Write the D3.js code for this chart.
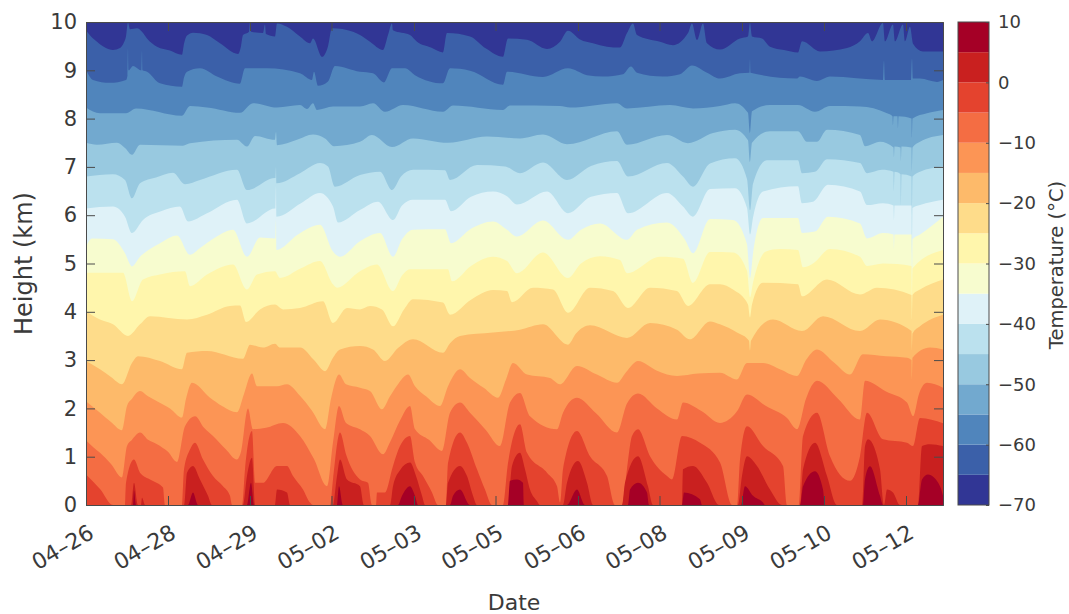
<!DOCTYPE html>
<html lang="en">
<head>
  <meta charset="UTF-8" />
  <title>Temperature by height</title>
  <script src="https://d3js.org/d3.v7.min.js"></script>
  <style>
    body { margin: 0; background: #fff; }
    text { font-family: 'DejaVu Sans', sans-serif; fill: #3a3a3a; }
    .domain, .tick line { stroke: #4a4a4a; }
  </style>
</head>
<body>
  <svg id="chart" width="1069" height="614"></svg>

  <script>
    // Tick labels
    const dateTicks = [0, 82, 164, 245.5, 328, 409.5, 492, 573.5, 656, 738, 820];
    const dateLabels = ['04–26', '04–28', '04–29', '05–02', '05–03', '05–05', '05–06', '05–08', '05–09', '05–10', '05–12'];
    const heightTicks = [0, 1, 2, 3, 4, 5, 6, 7, 8, 9, 10];
    const tempTicks = [-70, -60, -50, -40, -30, -20, -10, 0, 10];
    const tempEdges = [-70, -65, -60, -55, -50, -45, -40, -35, -30, -25, -20, -15, -10, -5, 0, 5, 10];
    const bandColors = ['#313695', '#3b60a9', '#5085bc', '#72a9cf', '#98c9e0', '#bbe1ee', '#dff2f8', '#f7fccf',
      '#fff6ac', '#fedc8a', '#fdba6a', '#fc9555', '#f46d43', '#e4432e', '#c9201f', '#a50026'];

    // Height (km) of each isotherm, as [profile number, km] pairs
    const iso70 = [[0, 10], [857, 10]];
    const iso65 = [[0,9.83],[5,9.7],[11,9.59],[19,9.47],[27,9.42],[34,9.46],[38,9.58],[40,9.7],[42,9.99],[44,9.85],[51,9.87],[56,9.8],[61,9.66],[71,9.49],[84,9.41],[96,9.32],[98,9.55],[101,9.72],[107,9.78],[121,9.73],[134,9.56],[152,9.34],[155,9.5],[157,9.73],[163,9.8],[164,10],[165,9.8],[177,9.77],[179,9.95],[180,9.75],[189,9.7],[191,9.97],[201,9.9],[214,9.7],[224,9.56],[227,9.66],[236,9.28],[242,9.5],[246,9.87],[267,9.8],[274,9.73],[284,9.59],[297,9.42],[302,9.73],[306,9.97],[307,9.83],[324,9.73],[331,9.59],[345,9.47],[357,9.37],[361,9.77],[384,9.7],[400,9.45],[417,9.28],[422,9.66],[441,9.63],[461,9.44],[474,9.59],[482,9.82],[494,9.64],[507,9.56],[521,9.49],[534,9.47],[541,9.77],[547,9.97],[551,9.73],[574,9.59],[587,9.52],[602,9.77],[606,9.97],[611,9.63],[617,9.97],[621,9.56],[634,9.43],[654,9.66],[662,9.7],[664,9.98],[666,9.7],[676,9.66],[684,9.49],[698,9.42],[712,9.37],[716,9.6],[734,9.39],[761,9.46],[774,9.6],[782,9.77],[786,9.6],[797,9.98],[799,9.6],[807,9.95],[809,9.6],[817,9.95],[819,9.6],[824,9.9],[827,9.55],[837,9.39],[857,9.39]];
    const iso60 = [[0,9.01],[7,8.8],[24,8.74],[40,8.8],[41.5,8.9],[42,9.45],[42.5,9],[47,9.09],[55.5,9],[56,9.4],[56.5,9],[61,8.97],[74,8.73],[96,8.66],[98,8.85],[101,8.97],[114,9.04],[131,8.87],[154,8.72],[159,9.04],[181,9.04],[214,8.94],[226,8.8],[228,8.97],[232,8.68],[242,8.77],[249,9.09],[274,8.97],[287,8.94],[298,8.75],[306,9.04],[319,9.04],[329,8.9],[357,8.73],[364,9.04],[384,8.99],[417,8.7],[421,8.97],[457,8.86],[482,9.04],[501,8.9],[517,8.87],[537,8.92],[545,9.08],[551,8.95],[577,8.87],[594,8.92],[606,9.1],[621,8.95],[634,8.83],[654,8.94],[663.5,8.95],[664,9.23],[664.5,8.95],[711,8.83],[714,8.87],[731,8.78],[744,8.87],[797,8.8],[798,9.2],[799,8.8],[825,8.8],[826,9.24],[827,8.83],[834,8.83],[851,8.76],[857,8.8]];
    const iso55 = [[0,8.23],[14,8.11],[40,8.11],[50,8.21],[96,8.06],[104,8.26],[121,8.23],[154,8.12],[167,8.32],[191,8.23],[214,8.28],[221,8.2],[227,8.32],[231,8.18],[247,8.25],[274,8.25],[287,8.32],[299,8.14],[317,8.28],[357,8.14],[367,8.27],[417,8.18],[424,8.27],[474,8.26],[484,8.23],[531,8.32],[541,8.21],[584,8.28],[607,8.21],[634,8.26],[649,8.32],[662,8.12],[664,7.7],[666,8.15],[684,8.28],[712,8.28],[729,8.14],[744,8.26],[774,8.25],[801,8.11],[806.5,8.05],[807,7.86],[807.5,8.05],[811.5,8.05],[812,7.8],[812.5,8.05],[825.5,8],[826,7.6],[826.5,8],[841,8.11],[857,8.18]];
    const iso50 = [[0,7.5],[11,7.46],[31,7.5],[39,7.39],[46,7.25],[54,7.46],[97,7.44],[104,7.49],[151,7.56],[161,7.42],[169,7.64],[189,7.56],[190,7.72],[191,7.45],[211,7.56],[227,7.67],[239,7.59],[248,7.43],[274,7.52],[286,7.66],[306,7.41],[327,7.59],[362,7.5],[401,7.63],[434,7.59],[457,7.67],[481,7.47],[531,7.74],[541,7.46],[581,7.66],[602,7.49],[627,7.7],[649,7.77],[662,7.55],[664,7.1],[666,7.5],[684,7.74],[712,7.74],[721,7.52],[731,7.52],[741,7.77],[774,7.66],[779,7.43],[794,7.52],[807.5,7.4],[808,7.2],[808.5,7.42],[814.5,7.4],[815,7.1],[815.5,7.42],[825.5,7.4],[826,6.9],[826.5,7.4],[834,7.52],[857,7.66]];
    const iso45 = [[0,6.8],[27,6.85],[39,6.73],[46,6.35],[54,6.66],[70,6.78],[87,6.88],[99,6.64],[114,6.73],[151,6.94],[161,6.52],[189,6.77],[189.5,6.77],[190,7],[190.5,6.66],[214,6.87],[234,7.08],[242,7.01],[249,6.59],[274,6.83],[294,6.9],[306,6.52],[315,6.8],[327,6.94],[359,6.93],[364,6.73],[391,7.04],[419,7.01],[434,6.87],[457,7.09],[481,6.73],[505,7.02],[531,7.12],[542,6.8],[581,7.08],[597,6.8],[607,6.59],[624,7.07],[649,7.18],[661,6.75],[664,6.1],[667,6.65],[681,7.14],[712,7.14],[716,6.87],[729,6.9],[741,7.16],[774,7.08],[781,6.87],[796,6.94],[807.5,6.9],[808,6.5],[808.5,6.9],[814.5,6.85],[815,6.2],[815.5,6.85],[825.5,6.8],[826,6],[826.5,6.8],[834,6.9],[857,7.01]];
    const iso40 = [[0,6.14],[27,6.18],[39,5.97],[46,5.63],[57,5.9],[75,6.08],[94,6.18],[102,5.87],[121,6.04],[151,6.32],[161,5.83],[189,6.14],[189.5,6.14],[190,6.6],[190.5,5.97],[215,6.25],[234,6.46],[247,6.18],[252,5.85],[274,6.11],[292,6.28],[307,5.9],[316,6.2],[327,6.32],[359,6.32],[365,6.08],[385,6.38],[407,6.49],[421,6.39],[431,6.22],[461,6.49],[482,6.04],[505,6.38],[531,6.46],[542,6.04],[581,6.46],[597,6.18],[607,5.97],[624,6.54],[649,6.56],[661,6.15],[664,5.6],[667,5.95],[677,6.49],[712,6.6],[716,6.25],[727,6.28],[742,6.63],[774,6.49],[781,6.21],[797,6.25],[807.5,6.2],[808,5.9],[808.5,6.2],[825.5,6.2],[826,5.2],[826.5,6.15],[834,6.21],[857,6.32]];
    const iso35 = [[0,5.35],[6,5.52],[27,5.5],[39,5.21],[46,4.94],[54,5.14],[64,5.3],[74,5.42],[91,5.58],[104,5.18],[114,5.32],[130,5.55],[147,5.7],[161,5.14],[174,5.54],[189,5.52],[189.5,5.52],[190,5.9],[190.5,5.28],[212,5.6],[234,5.8],[247,5.25],[254,5.14],[274,5.46],[294,5.63],[307,5.14],[316,5.5],[327,5.7],[359,5.71],[365,5.42],[385,5.72],[407,5.87],[421,5.7],[431,5.56],[457,5.89],[482,5.49],[495,5.7],[514,5.83],[541,5.49],[551,5.7],[581,5.85],[599,5.49],[607,5.21],[624,5.92],[647,5.9],[661,5.4],[664,4.7],[667,5.2],[677,5.94],[712,5.94],[716,5.63],[729,5.66],[742,5.97],[774,5.83],[781,5.52],[797,5.63],[807.5,5.6],[808,5.3],[808.5,5.6],[825.5,5.6],[826,4.5],[826.5,5.5],[834,5.6],[857,5.97]];
    const iso30 = [[0,4.81],[37,4.81],[46,4.22],[57,4.67],[75,4.78],[99,4.84],[104,4.53],[121,4.77],[147,4.98],[161,4.46],[171,4.77],[189,4.84],[194,4.7],[215,4.9],[234,5.05],[247,4.57],[251,4.5],[274,4.84],[291,4.98],[307,4.43],[316,4.75],[324,4.88],[362,4.88],[366,4.63],[385,4.95],[407,5.14],[421,5.05],[431,4.8],[457,5.23],[482,4.7],[495,5],[514,5.15],[534,5.07],[541,4.8],[574,5.14],[597,5.1],[607,4.6],[624,5.24],[647,5.23],[661,4.85],[664,4.3],[667,4.6],[680,5.25],[694,5.3],[712,5.28],[717,4.92],[727,5],[744,5.3],[774,5.14],[781,4.95],[797,5],[825.5,4.95],[826,4.2],[826.5,4.9],[857,5.28]];
    const iso25 = [[0,4.01],[14,3.84],[27,3.74],[42,3.5],[54,3.74],[64,3.91],[101,3.84],[121,3.94],[144,4.12],[154,4.13],[160,3.79],[174,4.05],[189,4.15],[197,4.05],[214,4.08],[237,4.22],[247,3.77],[261,4.08],[274,4.05],[284,4.12],[296,4.05],[307,3.7],[318,4.05],[327,4.26],[357,4.19],[364,3.94],[385,4.25],[407,4.45],[421,4.43],[426,4.2],[447,4.5],[467,4.46],[482,3.98],[504,4.5],[527,4.43],[542,4.08],[564,4.5],[591,4.43],[602,4.12],[624,4.57],[634,4.57],[647,4.46],[662,4.15],[664,3.88],[666,4.15],[677,4.6],[712,4.57],[716,4.32],[741,4.67],[774,4.36],[791,4.5],[825.5,4.35],[826,3.85],[826.5,4.35],[834,4.46],[857,4.67]];
    const iso20 = [[0,2.98],[14,2.81],[25,2.65],[36,2.5],[46,2.94],[52,3.08],[74,2.98],[96,2.81],[101,3.15],[121,3.19],[157,3.03],[164,3.32],[177,3.26],[189,3.34],[194,3.26],[214,3.26],[228,3],[239,2.77],[247,3.05],[254,3.22],[274,3.29],[287,3.22],[299,2.98],[312,3.25],[327,3.43],[357,3.15],[364,3.35],[374,3.5],[407,3.57],[434,3.63],[457,3.74],[482,3.32],[490,3.55],[504,3.72],[541,3.46],[564,3.77],[591,3.63],[604,3.43],[624,3.8],[634,3.74],[651,3.57],[663,3.4],[664,3.2],[665,3.4],[687,3.84],[716,3.6],[737,3.91],[774,3.6],[794,3.84],[825.5,3.6],[826,3.2],[826.5,3.55],[834,3.7],[857,3.94]];
    const iso15 = [[0,2.15],[14,1.91],[25,1.72],[36,1.55],[41,2.05],[46,2.2],[54,2.36],[62,2.25],[71,2.15],[84,2],[96,1.81],[100,2.2],[106,2.53],[124,2.22],[136,2.05],[151,1.92],[158,2.3],[166,2.72],[171,2.46],[191,2.46],[201,2.5],[214,2.26],[226,1.95],[239,1.57],[245,2.2],[253,2.7],[260,2.5],[274,2.43],[284,2.36],[296,1.98],[304,2.25],[312,2.5],[322,2.7],[329,2.46],[340,2.25],[354,2.05],[362,2.46],[374,2.81],[384,2.63],[398,2.42],[412,2.22],[420,2.6],[427,2.94],[441,2.7],[464,2.63],[474,2.5],[491,2.88],[511,2.7],[531,2.53],[540,2.75],[552,2.98],[571,2.78],[591,2.67],[612,2.72],[634,2.74],[651,2.6],[661,2.94],[677,2.94],[695,2.8],[711,2.67],[720,3],[731,3.22],[748,2.95],[764,2.7],[777,3.12],[800,3.08],[821,3.05],[825.5,3],[826,2.6],[826.5,3.05],[844,3.26],[857,3.22]];
    const iso10 = [[0,1.34],[7,1.2],[14,1.08],[25,0.85],[36,0.57],[41,1.22],[46,1.35],[54,1.5],[62,1.35],[71,1.26],[82,1.1],[91,0.89],[99,1.63],[109,1.84],[118,1.6],[127,1.43],[140,1.15],[151,0.94],[155,1.1],[162,2],[167,1.57],[180,1.6],[197,1.7],[214,1.43],[228,0.95],[241,0.39],[247,1.3],[253,2.05],[260,1.7],[274,1.57],[284,1.43],[297,1.05],[304,1.3],[314,1.75],[324,2.05],[329,1.57],[343,1.35],[356,1.12],[364,1.91],[374,2.12],[384,1.91],[400,1.55],[414,1.22],[424,2.12],[434,2.32],[444,1.84],[471,1.57],[477,1.91],[491,2.22],[510,1.9],[531,1.5],[541,2.1],[552,2.31],[571,2],[591,1.77],[597,2.12],[615,1.95],[634,1.7],[651,1.94],[661,2.29],[680,2.05],[701,1.8],[711,1.57],[720,2.2],[731,2.57],[752,2.2],[774,1.77],[779,2.57],[800,2.35],[821,2.12],[827,1.84],[833,2.3],[841,2.53],[857,2.43]];
    const iso5 = [[0,0.63],[14,0.33],[27,0],[39,0],[40,0.46],[48,0.94],[54,0.67],[65,0.52],[77,0.36],[79,0],[96,0],[98,0.74],[104,1.15],[109,1.29],[117,0.94],[127,0.6],[137,0.39],[144,0.19],[146,0],[156,0],[159,0.74],[166,1.53],[169,0.46],[177,0.46],[191,0.81],[201,0.81],[207,0.6],[217,0.32],[224,0.05],[227,0],[244,0],[247,0.53],[254,1.5],[260,1.05],[274,0.53],[282,0.46],[286,0],[290,0],[291,0.26],[299,0.26],[307,0.81],[314,1.22],[324,1.43],[329,0.88],[337,0.6],[346,0.26],[352,0],[360,0],[362,0.87],[374,1.5],[381,1.29],[391,0.74],[399,0.32],[406,0],[417,0],[422,0.87],[434,1.67],[441,1.08],[461,0.67],[471,0.39],[474,0.05],[477,0.74],[491,1.53],[504,1.01],[521,0.6],[529,0],[536,0],[541,0.74],[546,1.43],[552,1.57],[564,1.01],[581,0.6],[586,0.53],[596,1.43],[614,1.29],[634,0.88],[646,0],[651,0],[654,0.94],[661,1.63],[677,1.22],[697,0.81],[701,0],[713,0],[717,1.43],[731,1.91],[744,1.01],[764,0.5],[774,1.01],[781,1.91],[797,1.36],[821,1.29],[827,1.22],[834,1.8],[857,1.69]];
    const isoZero = [[0,0],[45,0],[48,0.46],[52,0],[55,0],[56,0.15],[59,0],[98,0],[101,0.67],[107,0.81],[114,0.53],[122,0.19],[126,0],[157,0],[161,0.6],[166,0.98],[169,0],[189,0],[191,0.32],[201,0.26],[204,0],[247,0],[251,0.6],[254,0.94],[261,0.53],[274,0.39],[278,0],[304,0],[307,0.39],[314,0.72],[324,0.88],[330,0.6],[336,0.19],[339,0],[360,0],[362,0.46],[374,0.81],[381,0.6],[387,0.19],[391,0],[422,0],[426,0.81],[434,1.08],[439,0.74],[444,0.32],[451,0.08],[454,0],[477,0],[481,0.46],[492,0.91],[501,0.46],[507,0],[536,0],[539,0.46],[552,1.01],[562,0.39],[567,0],[596,0],[597,0.74],[607,0.81],[621,0.46],[633,0],[652,0],[656,0.6],[661,1.01],[671,0.81],[684,0.32],[696,0],[714,0],[717,0.74],[729,1.29],[741,0.6],[751,0],[776,0],[779,1.22],[782,1.36],[794,0.74],[798,0],[801,0.32],[807,0.26],[814,0],[832,0],[836,1.22],[844,1.26],[857,1.22]];
    const isoPlus5 = [[0,0],[47,0],[48,0.3],[50,0],[102,0],[107,0.26],[112,0],[161,0],[165,0.46],[168,0],[251,0],[253,0.39],[257,0],[312,0],[316,0.19],[324,0.39],[329,0.19],[332,0],[364,0],[367,0.19],[374,0.32],[384,0],[422,0],[424,0.5],[431,0.53],[437,0.46],[438,0],[481,0],[491,0.32],[499,0],[542,0],[544,0.32],[552,0.46],[561,0.26],[563,0],[596,0],[598,0.26],[614,0.12],[616,0],[655,0],[659,0.39],[667,0.19],[677,0.05],[679,0],[714,0],[717,0.39],[729,0.7],[737,0.32],[739,0],[777,0],[779,0.53],[784,0.8],[794,0.19],[797,0],[832,0],[836,0.53],[842,0.63],[854,0.39],[857,0.19]];

    // coldest band first, each warmer band painted over it
    const isotherms = [iso70, iso65, iso60, iso55, iso50, iso45, iso40, iso35, iso30, iso25, iso20, iso15, iso10, iso5, isoZero, isoPlus5];

    const svg = d3.select('#chart');
    const x = d3.scaleLinear().domain([0, 857]).range([86, 943]);
    const y = d3.scaleLinear().domain([0, 10]).range([505, 22]);
    const c = d3.scaleLinear().domain([-70, 10]).range([505, 22]);

    svg.append('clipPath').attr('id', 'plot')
      .append('rect').attr('x', 86).attr('y', 22).attr('width', 857).attr('height', 483);

    const area = d3.area()
      .x(d => x(d[0]))
      .y0(y(0))
      .y1(d => y(d[1]))
      .curve(d3.curveMonotoneX);

    svg.append('g').attr('clip-path', 'url(#plot)')
      .selectAll('path')
      .data(isotherms)
      .enter().append('path')
      .attr('fill', (d, i) => bandColors[i])
      .attr('d', area);

    // Axes, ticks point inwards on all four sides
    const xBottom = svg.append('g').attr('transform', 'translate(0,505)')
      .call(d3.axisBottom(x).tickValues(dateTicks).tickSize(-9).tickFormat((d, i) => dateLabels[i]));
    xBottom.selectAll('text')
      .attr('font-size', 22)
      .attr('text-anchor', 'end')
      .attr('x', 0).attr('y', 0).attr('dy', 0)
      .attr('transform', 'translate(9,32) rotate(-30)');
    svg.append('g').attr('transform', 'translate(0,22)')
      .call(d3.axisTop(x).tickValues(dateTicks).tickSize(-9).tickFormat(''));

    svg.append('g').attr('transform', 'translate(86,0)')
      .call(d3.axisLeft(y).tickValues(heightTicks).tickSize(-9).tickPadding(9))
      .selectAll('text').attr('font-size', 21);
    svg.append('g').attr('transform', 'translate(943,0)')
      .call(d3.axisRight(y).tickValues(heightTicks).tickSize(-9).tickFormat(''));
    svg.selectAll('.domain').attr('stroke-width', 1);

    // Colorbar
    svg.append('g').selectAll('rect')
      .data(bandColors)
      .enter().append('rect')
      .attr('x', 958)
      .attr('width', 31)
      .attr('y', (d, i) => c(tempEdges[i + 1]))
      .attr('height', (d, i) => c(tempEdges[i]) - c(tempEdges[i + 1]))
      .attr('fill', d => d);
    svg.append('rect').attr('x', 958).attr('y', 22).attr('width', 31).attr('height', 483)
      .attr('fill', 'none').attr('stroke', '#4a4a4a');
    svg.append('g').attr('transform', 'translate(989,0)')
      .call(d3.axisRight(c).tickValues(tempTicks).tickSize(-3).tickPadding(9).tickFormat(d3.format('d')))
      .call(g => g.select('.domain').remove())
      .selectAll('text').attr('font-size', 18);

    // Axis titles
    svg.append('text').attr('x', 514).attr('y', 610).attr('text-anchor', 'middle')
      .attr('font-size', 22).text('Date');
    svg.append('text').attr('transform', 'translate(32,263.5) rotate(-90)').attr('text-anchor', 'middle')
      .attr('font-size', 24).text('Height (km)');
    svg.append('text').attr('transform', 'translate(1063,265) rotate(-90)').attr('text-anchor', 'middle')
      .attr('font-size', 19.5).text('Temperature (°C)');
  </script>
</body>
</html>
